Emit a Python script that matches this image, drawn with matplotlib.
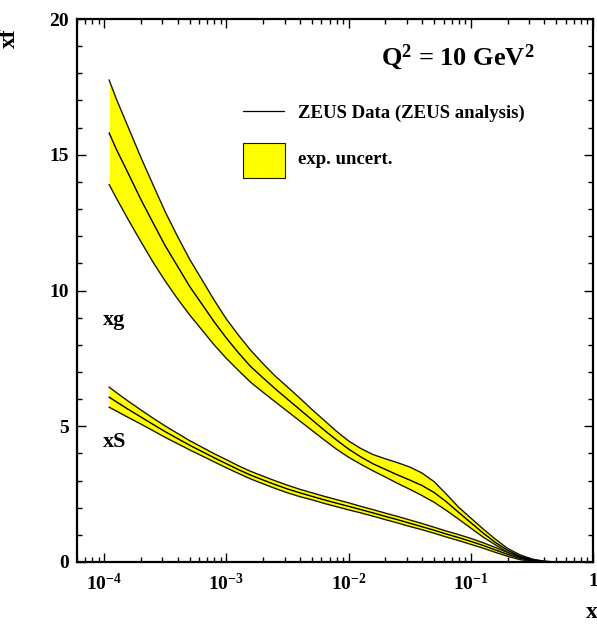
import matplotlib
matplotlib.use("Agg")
import matplotlib.pyplot as plt
from matplotlib.patches import Rectangle
from matplotlib.lines import Line2D
from matplotlib.ticker import FixedLocator, LogLocator, MultipleLocator, NullFormatter

plt.rcParams['font.family'] = ['Liberation Serif', 'DejaVu Serif']
plt.rcParams['font.weight'] = 'bold'
plt.rcParams['mathtext.fontset'] = 'custom'
plt.rcParams['mathtext.rm'] = 'Liberation Serif:bold'
plt.rcParams['mathtext.bf'] = 'Liberation Serif:bold'
plt.rcParams['mathtext.default'] = 'rm'

# x values of the readings
x = [1.1e-4, 1.26e-4, 1.58e-4, 2e-4, 2.51e-4, 3.16e-4, 3.98e-4, 5.01e-4, 6.31e-4, 7.94e-4,
     1e-3, 1.26e-3, 1.58e-3, 2e-3, 2.51e-3, 3.16e-3, 3.98e-3, 5.01e-3, 6.31e-3, 7.94e-3,
     0.01, 0.0126, 0.0158, 0.02, 0.0251, 0.0316, 0.0398, 0.0501, 0.0631, 0.0794,
     0.1, 0.126, 0.158, 0.2, 0.251, 0.316, 0.398, 0.501, 0.631]

# gluon: central, upper, lower
xg = [15.8, 15.2, 14.3, 13.35, 12.5, 11.65, 10.9, 10.15, 9.5, 8.85,
      8.25, 7.7, 7.2, 6.78, 6.38, 6.0, 5.62, 5.24, 4.86, 4.5,
      4.16, 3.87, 3.62, 3.41, 3.21, 3.02, 2.82, 2.56, 2.22, 1.83,
      1.45, 1.07, 0.73, 0.43, 0.22, 0.09, 0.02, 0.0, 0.0]
xg_up = [17.75, 17.05, 16.0, 14.9, 13.9, 12.9, 12.0, 11.15, 10.4, 9.65,
         8.95, 8.35, 7.8, 7.3, 6.85, 6.45, 6.04, 5.62, 5.22, 4.82,
         4.46, 4.18, 3.96, 3.8, 3.66, 3.5, 3.28, 2.96, 2.5, 2.02,
         1.62, 1.22, 0.85, 0.5, 0.27, 0.11, 0.03, 0.0, 0.0]
xg_lo = [13.9, 13.4, 12.6, 11.8, 11.05, 10.35, 9.7, 9.1, 8.55, 8.0,
         7.5, 7.05, 6.62, 6.25, 5.9, 5.55, 5.2, 4.85, 4.5, 4.16,
         3.86, 3.6, 3.36, 3.13, 2.9, 2.68, 2.45, 2.2, 1.9, 1.58,
         1.25, 0.92, 0.64, 0.36, 0.17, 0.06, 0.01, 0.0, 0.0]

# sea quarks: central, upper, lower
xS = [6.07, 5.9, 5.62, 5.34, 5.07, 4.8, 4.55, 4.3, 4.07, 3.84,
      3.62, 3.4, 3.2, 3.02, 2.85, 2.69, 2.55, 2.42, 2.29, 2.17,
      2.05, 1.93, 1.81, 1.68, 1.56, 1.43, 1.3, 1.17, 1.03, 0.9,
      0.76, 0.61, 0.45, 0.28, 0.14, 0.05, 0.01, 0.0, 0.0]
xS_up = [6.44, 6.24, 5.92, 5.60, 5.30, 5.01, 4.74, 4.47, 4.23, 3.99,
         3.77, 3.54, 3.34, 3.16, 2.99, 2.83, 2.68, 2.55, 2.42, 2.30,
         2.18, 2.05, 1.93, 1.80, 1.68, 1.55, 1.42, 1.28, 1.14, 1.01,
         0.87, 0.71, 0.54, 0.35, 0.19, 0.08, 0.02, 0.0, 0.0]
xS_lo = [5.70, 5.56, 5.32, 5.08, 4.84, 4.59, 4.36, 4.13, 3.91, 3.69,
         3.47, 3.26, 3.06, 2.88, 2.71, 2.55, 2.41, 2.29, 2.16, 2.04,
         1.92, 1.81, 1.69, 1.56, 1.44, 1.31, 1.19, 1.06, 0.92, 0.79,
         0.65, 0.51, 0.36, 0.21, 0.09, 0.02, 0.0, 0.0, 0.0]

W, H = 597, 630
fig = plt.figure(figsize=(W / 100, H / 100), dpi=100)
ax = fig.add_axes([77 / W, 1 - 562 / H, (593 - 77) / W, (562 - 19) / H])

yellow = '#ffff00'
edge = '#1a1a00'
for c, up, lo in [(xg, xg_up, xg_lo), (xS, xS_up, xS_lo)]:
    ax.fill_between(x, lo, up, color=yellow, lw=0, zorder=1)
    ax.plot(x, up, color=edge, lw=1.0, zorder=2)
    ax.plot(x, lo, color=edge, lw=1.0, zorder=2)
    ax.plot(x, c, color='black', lw=1.0, zorder=3)

ax.set_xscale('log')
ax.set_xlim(6e-5, 1)
ax.set_ylim(0, 20)

ax.xaxis.set_major_locator(FixedLocator([1e-4, 1e-3, 1e-2, 1e-1, 1]))
ax.set_xticklabels(['10$^{-4}$', '10$^{-3}$', '10$^{-2}$', '10$^{-1}$', '1'])
ax.xaxis.set_minor_locator(LogLocator(base=10, subs=range(2, 10), numticks=20))
ax.xaxis.set_minor_formatter(NullFormatter())
ax.yaxis.set_major_locator(MultipleLocator(5))
ax.yaxis.set_minor_locator(MultipleLocator(1))

ax.tick_params(which='both', direction='in', top=True, right=True,
               labeltop=False, labelright=False, width=1.0, labelsize=14)
ax.tick_params(which='major', length=6.5)
ax.tick_params(which='minor', length=3.6)
ax.tick_params(axis='x', pad=8)
ax.tick_params(axis='y', pad=6)
for s in ax.spines.values():
    s.set_linewidth(1.6)

# curve names
ax.text(103 / W, 1 - 320 / H, 'xg', transform=fig.transFigure, fontsize=16,
        fontweight='bold', va='center', ha='left')
ax.text(103 / W, 1 - 442 / H, 'xS', transform=fig.transFigure, fontsize=16,
        fontweight='bold', va='center', ha='left')

# title
fig.text(458 / W, 1 - 57 / H, r'Q$^{2}$ = 10 GeV$^{2}$', fontsize=19,
         fontweight='bold', ha='center', va='center')

# legend
fig.add_artist(Line2D([243 / W, 284 / W], [1 - 111 / H, 1 - 111 / H],
                      color='black', lw=0.9))
fig.text(298 / W, 1 - 113 / H, 'ZEUS Data (ZEUS analysis)', fontsize=13.5,
         fontweight='bold', ha='left', va='center')
fig.add_artist(Rectangle((243 / W, 1 - 178 / H), 42 / W, 35 / H,
                         transform=fig.transFigure, facecolor=yellow,
                         edgecolor=edge, lw=0.8))
fig.text(298 / W, 1 - 159 / H, 'exp. uncert.', fontsize=13.5,
         fontweight='bold', ha='left', va='center')

# axis titles (partly cut by the canvas edge, as in the original)
fig.text(9 / W, 1 - 38 / H, 'xf', fontsize=17, fontweight='bold',
         rotation=90, ha='center', va='center')
fig.text(592 / W, 1 - 612 / H, 'x', fontsize=17, fontweight='bold',
         ha='center', va='center')

fig.savefig('out.png', dpi=100)
